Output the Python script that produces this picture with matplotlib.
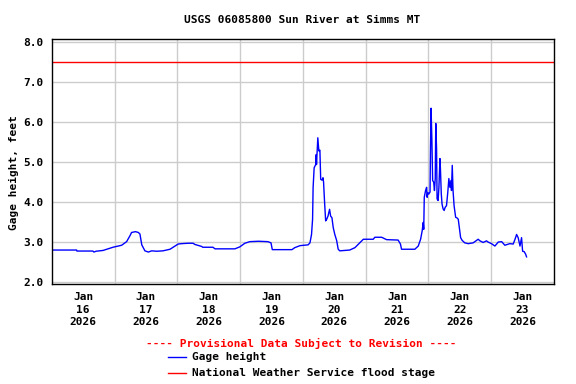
#!/usr/bin/env python3
"""
USGS 06085800 Sun River at Simms MT - gage height, Jan 16-23 2026
"""
import matplotlib
matplotlib.use("Agg")
import matplotlib.pyplot as plt
from matplotlib.lines import Line2D

# hours since Jan 16 2026 00:00, gage height in feet
hours = [0.0, 9.5, 9.6, 15.7, 16.1, 16.9, 19.6, 23.4, 26.7, 28.6, 29.9, 30.5,
         32.0, 33.1, 33.7, 34.4, 35.6, 36.9, 38.2, 40.1, 42.5, 45.2, 48.3, 49.6,
         52.1, 54.0, 54.7, 57.3, 57.7, 61.6, 62.4, 70.0, 71.9, 73.8, 75.7, 79.0,
         82.6, 83.8, 84.3, 91.8, 92.9, 94.9, 96.4, 98.0, 98.7, 99.3, 99.7, 99.9,
         100.3, 100.9, 101.1, 101.2, 101.7, 102.1, 102.5, 102.8, 103.3, 103.7,
         103.9, 104.3, 104.7, 105.1, 105.6, 105.9, 106.2, 106.6, 107.1, 107.6,
         108.2, 108.9, 109.5, 110.1, 113.9, 115.9, 119.1, 122.9, 123.5, 126.1,
         128.0, 132.4, 133.3, 133.7, 138.8, 140.1, 141.0, 141.6, 142.0, 142.2,
         142.4, 142.9, 143.3, 143.5, 143.7, 144.1, 144.6, 144.8, 145.0, 145.3,
         145.6, 146.0, 146.3, 146.6, 146.8, 147.1, 147.3, 147.7, 148.0, 148.4,
         148.6, 148.9, 149.2, 149.6, 150.0, 150.4, 150.9, 151.4, 151.8, 152.2,
         152.6, 152.8, 153.1, 153.4, 153.8, 154.4, 155.0, 155.4, 155.8, 156.3,
         156.9, 157.9, 159.2, 161.1, 163.0, 163.7, 164.9, 166.2, 166.8, 168.1,
         169.4, 170.7, 172.0, 173.2, 175.1, 176.4, 177.1, 177.7, 178.3, 179.0,
         179.6, 180.0, 180.6, 181.2, 181.5]
gage_ft = [2.80, 2.80, 2.775, 2.775, 2.75, 2.77, 2.79, 2.87, 2.92, 3.01, 3.16, 3.24,
           3.26, 3.24, 3.20, 2.93, 2.78, 2.75, 2.78, 2.77, 2.78, 2.82, 2.95, 2.96,
           2.97, 2.97, 2.94, 2.89, 2.87, 2.87, 2.83, 2.83, 2.88, 2.97, 3.01, 3.02,
           3.01, 2.98, 2.81, 2.81, 2.86, 2.91, 2.92, 2.93, 2.98, 3.19, 3.57, 4.36,
           4.86, 4.94, 5.19, 4.94, 5.61, 5.28, 5.30, 4.57, 4.55, 4.61,
           4.50, 3.98, 3.53, 3.57, 3.65, 3.73, 3.82, 3.65, 3.61, 3.36,
           3.19, 3.04, 2.82, 2.78, 2.80, 2.86, 3.07, 3.07, 3.12, 3.12,
           3.06, 3.05, 2.95, 2.82, 2.82, 2.90, 3.07, 3.28, 3.49, 3.32,
           4.12, 4.29, 4.37, 4.12, 4.24, 4.20, 4.25, 5.43, 6.35, 5.60,
           4.54, 4.50, 4.29, 4.59, 5.97, 5.34, 4.08, 4.04, 4.37, 5.09,
           4.80, 4.21, 3.95, 3.83, 3.79, 3.87, 3.91, 4.25, 4.59, 4.37,
           4.54, 4.29, 4.92, 4.29, 3.91, 3.62, 3.60, 3.57, 3.36, 3.11,
           3.04, 2.98, 2.96, 2.98, 3.07, 3.03, 2.99, 3.03, 3.00, 2.96,
           2.90, 3.00, 3.01, 2.92, 2.96, 2.95, 3.07, 3.19, 3.11, 2.90,
           3.11, 2.77, 2.76, 2.69, 2.63]

flood_stage_ft = 7.5
day_labels = ["Jan\n16\n2026", "Jan\n17\n2026", "Jan\n18\n2026", "Jan\n19\n2026",
              "Jan\n20\n2026", "Jan\n21\n2026", "Jan\n22\n2026", "Jan\n23\n2026"]
y_ticks = [2.0, 3.0, 4.0, 5.0, 6.0, 7.0, 8.0]

FONT = "DejaVu Sans Mono"
FS = 8

fig = plt.figure(figsize=(5.76, 3.84), dpi=100)
ax = fig.add_axes([51.8 / 576, 1 - 284 / 384, (554 - 51.8) / 576, (284 - 39.3) / 384])

ax.plot(hours, gage_ft, color="#0000ff", linewidth=1.0, zorder=3)
ax.axhline(flood_stage_ft, color="#ff0000", linewidth=1.0, zorder=3)

ax.set_xlim(0, 24 * len(day_labels))
ax.set_ylim(1.95, 8.075)

# gridlines at midnight, labels at noon
ax.set_xticks([24 * i for i in range(1, len(day_labels))])
ax.set_xticklabels([])
ax.set_xticks([24 * i + 12 for i in range(len(day_labels))], minor=True)
ax.set_xticklabels(day_labels, minor=True, fontfamily=FONT, fontweight="bold",
                   fontsize=FS, linespacing=1.32)
ax.set_yticks(y_ticks)
ax.set_yticklabels([f"{v:.1f}" for v in y_ticks], fontfamily=FONT,
                   fontweight="bold", fontsize=FS)
ax.tick_params(axis="both", which="both", length=0)
ax.tick_params(axis="x", which="minor", pad=6)
ax.tick_params(axis="y", pad=6)
ax.grid(True, which="major", color="#cccccc", linewidth=1.0)
for s in ax.spines.values():
    s.set_color("black")
    s.set_linewidth(1.0)
    s.set_zorder(4)

fig.text(302 / 576, 1 - 20 / 384, "USGS 06085800 Sun River at Simms MT",
         ha="center", va="center", fontfamily=FONT, fontweight="bold", fontsize=FS)
fig.text(14 / 576, 1 - 173 / 384, "Gage height, feet", rotation=90,
         ha="center", va="center", fontfamily=FONT, fontweight="bold", fontsize=FS)

# legend block under the axis
fig.text(301.5 / 576, 1 - 343 / 384, "---- Provisional Data Subject to Revision ----",
         ha="center", va="center", color="#ff0000", fontfamily=FONT,
         fontweight="bold", fontsize=FS)
for ypix, col, label in [(357, "#0000ff", "Gage height"),
                         (373, "#ff0000", "National Weather Service flood stage")]:
    yf = 1 - ypix / 384
    fig.add_artist(Line2D([168 / 576, 186 / 576], [yf, yf], color=col,
                          linewidth=1.0, transform=fig.transFigure))
    fig.text(192 / 576, yf, label, ha="left", va="center", fontfamily=FONT,
             fontweight="bold", fontsize=FS)

fig.savefig("out.png", dpi=100)
